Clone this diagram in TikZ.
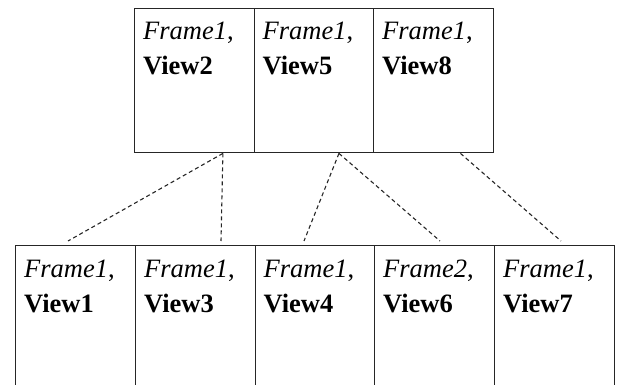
\documentclass[tikz,border=0pt]{standalone}
\usepackage{fontspec}
\setmainfont{Liberation Serif}
\usetikzlibrary{calc}
\begin{document}
\begin{tikzpicture}[x=1pt,y=-1pt,
  cell/.style={draw=black!85, line width=1.4pt, minimum width=119.5pt, inner sep=0pt, anchor=north west},
  topcell/.style={cell, minimum height=144pt},
  botcell/.style={cell, minimum height=160pt},
  lbl/.style={anchor=base west, inner sep=0pt, font=\fontsize{26.5}{30}\selectfont},
  conn/.style={draw=black!85, line width=1.1pt, dash pattern=on 4pt off 3pt}]
\useasboundingbox (0,0) rectangle (619,385);
\clip (0,0) rectangle (619,385);
% top row
\node[topcell] (t1) at (134,8) {};
\node[topcell] (t2) at (253.5,8) {};
\node[topcell] (t3) at (373,8) {};
% bottom row
\node[botcell] (b1) at (15,245) {};
\node[botcell] (b2) at (135,245) {};
\node[botcell] (b3) at (254.5,245) {};
\node[botcell] (b4) at (374,245) {};
\node[botcell] (b5) at (494,245) {};
% labels top
\node[lbl] (t1a) at (143,40) {\textit{Frame1},};
\node[lbl] (t1b) at (143,75) {\textbf{View2}};
\node[lbl] (t2a) at (262.5,40) {\textit{Frame1},};
\node[lbl] (t2b) at (262.5,75) {\textbf{View5}};
\node[lbl] (t3a) at (382,40) {\textit{Frame1},};
\node[lbl] (t3b) at (382,75) {\textbf{View8}};
% labels bottom
\node[lbl] (b1a) at (24,277) {\textit{Frame1},};
\node[lbl] (b1b) at (24,312) {\textbf{View1}};
\node[lbl] (b2a) at (144,277) {\textit{Frame1},};
\node[lbl] (b2b) at (144,312) {\textbf{View3}};
\node[lbl] (b3a) at (263.5,277) {\textit{Frame1},};
\node[lbl] (b3b) at (263.5,312) {\textbf{View4}};
\node[lbl] (b4a) at (383,277) {\textit{Frame2},};
\node[lbl] (b4b) at (383,312) {\textbf{View6}};
\node[lbl] (b5a) at (503,277) {\textit{Frame1},};
\node[lbl] (b5b) at (503,312) {\textbf{View7}};
% connectors
\coordinate (p2) at ($(t1.south east)+(-32,0)$);
\coordinate (p5) at ($(t2.south)+(25,0)$);
\coordinate (p8) at ($(t3.south)+(27,0)$);
\draw[conn] (p2) -- ($(b1.north west)+(53,-4)$);
\draw[conn] (p2) -- ($(b2.north west)+(86,-4)$);
\draw[conn] (p5) -- ($(b3.north west)+(49.5,-4)$);
\draw[conn] (p5) -- ($(b4.north west)+(66,-4)$);
\draw[conn] (p8) -- ($(b5.north west)+(67,-4)$);
\end{tikzpicture}
\end{document}
